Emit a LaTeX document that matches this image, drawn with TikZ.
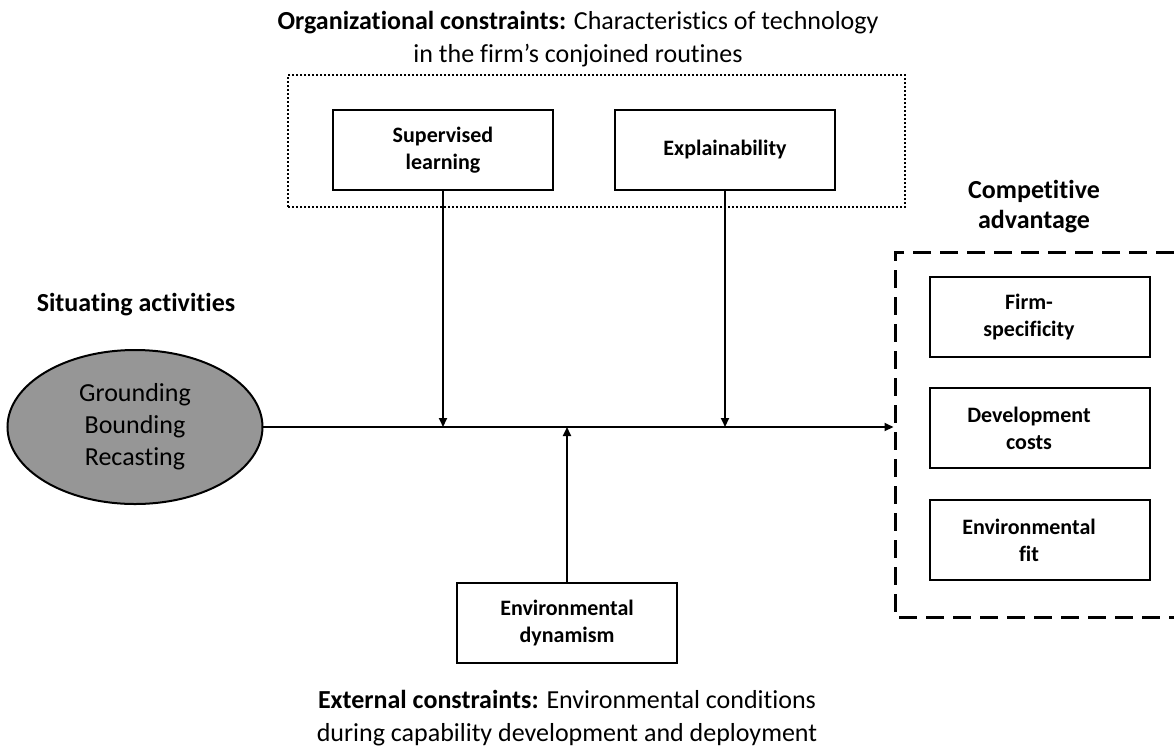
\documentclass[tikz,border=0pt]{standalone}
\usepackage{fontspec}
\setmainfont{Carlito}[Ligatures={NoCommon,NoRequired,NoContextual}]
\usetikzlibrary{arrows.meta,shapes.geometric}
\definecolor{situfill}{RGB}{150,150,150}
\begin{document}
\begin{tikzpicture}[x=1pt,y=-1pt,
  every node/.style={inner sep=0pt, outer sep=0pt},
  factortext/.style={align=center, font=\fontsize{22}{27}\selectfont\bfseries},
  factor/.style={draw, line width=2pt, minimum width=220pt, minimum height=80pt, factortext},
  heading/.style={align=center, font=\fontsize{26}{30}\selectfont\bfseries},
  caption/.style={align=center, font=\fontsize{26}{33}\selectfont},
  link/.style={line width=2pt, -{Triangle[length=9pt,width=8pt]}},
  dotbox/.style={draw, line width=2pt, dash pattern=on 2pt off 2pt},
  dashbox/.style={line width=3pt, dash pattern=on 18pt off 9pt},
]
\useasboundingbox (0,0) rectangle (1174,750);

% captions and headings
\node[caption] (orgcap) at (578,39) {\textbf{Organizational constraints:} Characteristics of technology\\in the firm’s conjoined routines};
\node[caption] (extcap) at (567,718) {\textbf{External constraints:} Environmental conditions\\during capability development and deployment};
\node[heading] (sithead) at (136,305) {Situating activities};
\node[heading] (advhead) at (1034,207) {Competitive\\advantage};

% organizational constraints group
\node[dotbox, minimum width=617pt, minimum height=132pt] (orgbox) at (596.5,141) {};
\node[factor] (sup) at (443,150) {Supervised\\learning};
\node[factor] (exp) at (725,150) {Explainability};

% situating activities
\node[ellipse, draw, line width=2pt, fill=situfill, minimum width=255pt, minimum height=154pt,
      font=\fontsize{26}{32}\selectfont, align=center] (sit) at (135,427) {Grounding\\Bounding\\Recasting};

% external constraint
\node[factor] (dyn) at (567,622.5) {Environmental\\dynamism};

% competitive advantage group
\draw[dashbox] (1174,252) -- (895,252) -- (895,617) -- (1174,617);
\node[factor, label={[factortext, xshift=-11pt]center:{Firm-\\specificity}}] (firm) at (1040,317) {};
\node[factor, label={[factortext, xshift=-11pt]center:{Development\\costs}}] (dev) at (1040,428) {};
\node[factor, label={[factortext, xshift=-11pt]center:{Environmental\\fit}}] (fit) at (1040,540) {};
\coordinate (advin) at (893.5,427);

% connectors
\draw[link] (sit.east) -- (advin);
\draw[link] (sup.south) -- (sup.south |- sit.east);
\draw[link] (exp.south) -- (exp.south |- sit.east);
\draw[link] (dyn.north) -- (dyn.north |- sit.east);
\end{tikzpicture}
\end{document}
